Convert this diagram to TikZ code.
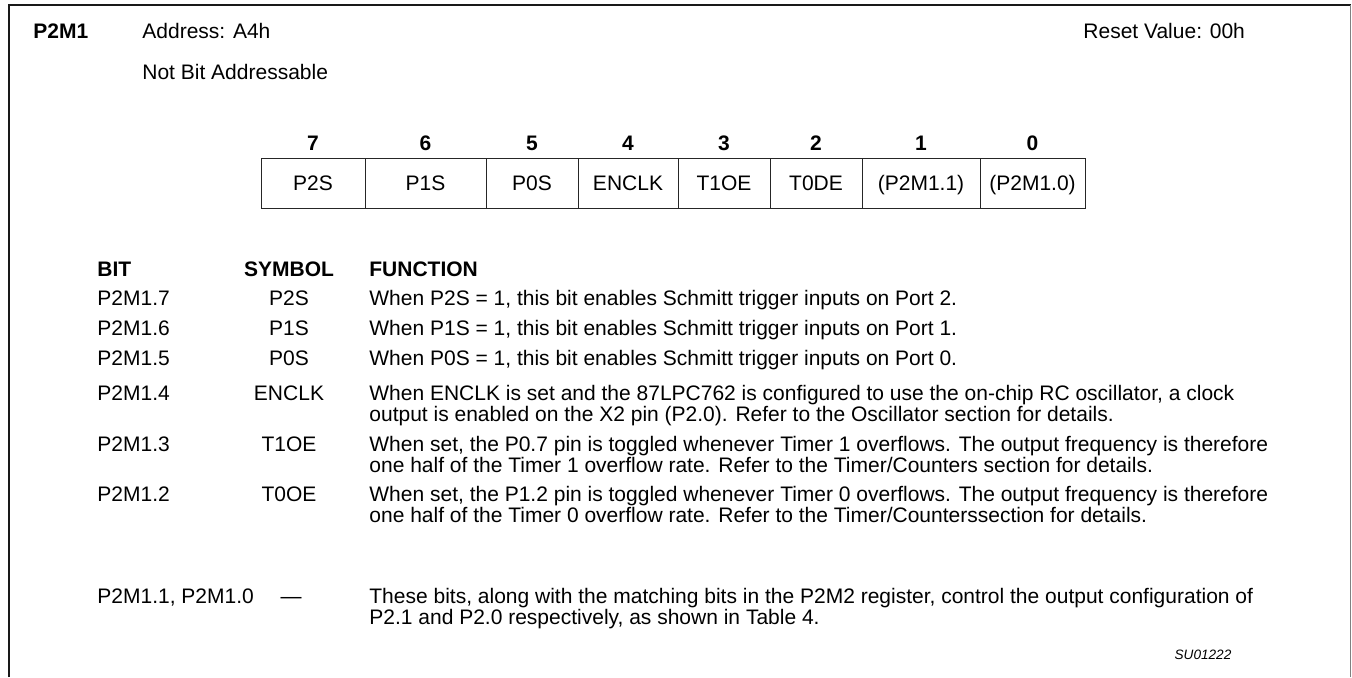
\documentclass[tikz,border=0pt]{standalone}
\usepackage{fontspec}
\setmainfont{Liberation Sans}
\begin{document}
\begin{tikzpicture}[x=0.5pt,y=-0.5pt,
  every node/.style={inner sep=0pt, font=\fontsize{10.5}{10.5}\selectfont},
  lbl/.style={anchor=base west},
  sym/.style={anchor=base},
  hdr/.style={anchor=base west, font=\fontsize{10.5}{10.5}\selectfont\bfseries},
  func/.style={anchor=base west},
  bitno/.style={anchor=base, font=\fontsize{10.5}{10.5}\selectfont\bfseries},
  cell/.style={draw=black!85, line width=0.5pt, minimum height=25pt, anchor=center, text height=7.5pt, text depth=0pt},
  frameline/.style={line width=1.1pt, draw=black!90}]
\useasboundingbox (0,0) rectangle (1352,677);
% frame
\draw[frameline] (9,677) -- (9,5) -- (1350.5,5);
\draw[gray, line width=0.6pt] (1350.5,5) -- (1350.5,677);
% heading
\node[hdr] (name) at (33,38.5) {P2M1};
\node[lbl] (addr) at (142,38.5) {Address: A4h};
\node[lbl] (nba) at (142,79.5) {Not Bit Addressable};
\node[lbl] (reset) at (1083,38.5) {Reset Value: 00h};
% register bit numbers
\node[bitno] (n7) at (313,150.5) {7};
\node[bitno] (n6) at (425.5,150.5) {6};
\node[bitno] (n5) at (532,150.5) {5};
\node[bitno] (n4) at (628,150.5) {4};
\node[bitno] (n3) at (724,150.5) {3};
\node[bitno] (n2) at (816,150.5) {2};
\node[bitno] (n1) at (921,150.5) {1};
\node[bitno] (n0) at (1032.5,150.5) {0};
% register cells
\node[cell, minimum width=52pt] (c7) at (313,183) {P2S};
\node[cell, minimum width=60.5pt] (c6) at (425.5,183) {P1S};
\node[cell, minimum width=46pt] (c5) at (532,183) {P0S};
\node[cell, minimum width=50pt] (c4) at (628,183) {ENCLK};
\node[cell, minimum width=46pt] (c3) at (724,183) {T1OE};
\node[cell, minimum width=46pt] (c2) at (816,183) {T0DE};
\node[cell, minimum width=59pt] (c1) at (921,183) {(P2M1.1)};
\node[cell, minimum width=52.5pt] (c0) at (1032.5,183) {(P2M1.0)};
% table header
\node[hdr] (hbit) at (97,276.5) {BIT};
\node[hdr, anchor=base] (hsym) at (289,276.5) {SYMBOL};
\node[hdr] (hfun) at (369,276.5) {FUNCTION};
% rows
\node[lbl] (b7) at (97,305.5) {P2M1.7};
\node[sym] (s7) at (289,305.5) {P2S};
\node[func] (f7) at (369,305.5) {When P2S = 1, this bit enables Schmitt trigger inputs on Port 2.};
\node[lbl] (b6) at (97,335.5) {P2M1.6};
\node[sym] (s6) at (289,335.5) {P1S};
\node[func] (f6) at (369,335.5) {When P1S = 1, this bit enables Schmitt trigger inputs on Port 1.};
\node[lbl] (b5) at (97,365.5) {P2M1.5};
\node[sym] (s5) at (289,365.5) {P0S};
\node[func] (f5) at (369,365.5) {When P0S = 1, this bit enables Schmitt trigger inputs on Port 0.};
\node[lbl] (b4) at (97,400.5) {P2M1.4};
\node[sym] (s4) at (289,400.5) {ENCLK};
\node[func] (f4) at (369,400.5) {When ENCLK is set and the 87LPC762 is configured to use the on-chip RC oscillator, a clock};
\node[func] (f4b) at (369,421.5) {output is enabled on the X2 pin (P2.0). Refer to the Oscillator section for details.};
\node[lbl] (b3) at (97,451.5) {P2M1.3};
\node[sym] (s3) at (289,451.5) {T1OE};
\node[func] (f3) at (369,451.5) {When set, the P0.7 pin is toggled whenever Timer 1 overflows. The output frequency is therefore};
\node[func] (f3b) at (369,472.5) {one half of the Timer 1 overflow rate. Refer to the Timer/Counters section for details.};
\node[lbl] (b2) at (97,501.5) {P2M1.2};
\node[sym] (s2) at (289,501.5) {T0OE};
\node[func] (f2) at (369,501.5) {When set, the P1.2 pin is toggled whenever Timer 0 overflows. The output frequency is therefore};
\node[func] (f2b) at (369,522.5) {one half of the Timer 0 overflow rate. Refer to the Timer/Counterssection for details.};
\node[lbl] (b1) at (97,603.5) {P2M1.1, P2M1.0};
\node[sym] (s1) at (291,603.5) {—};
\node[func] (f1) at (369,603.5) {These bits, along with the matching bits in the P2M2 register, control the output configuration of};
\node[func] (f1b) at (369,624.5) {P2.1 and P2.0 respectively, as shown in Table 4.};
% figure code
\node[anchor=center, font=\fontsize{6.8}{6.8}\selectfont\itshape] (code) at (1203,655) {SU01222};
\end{tikzpicture}
\end{document}
